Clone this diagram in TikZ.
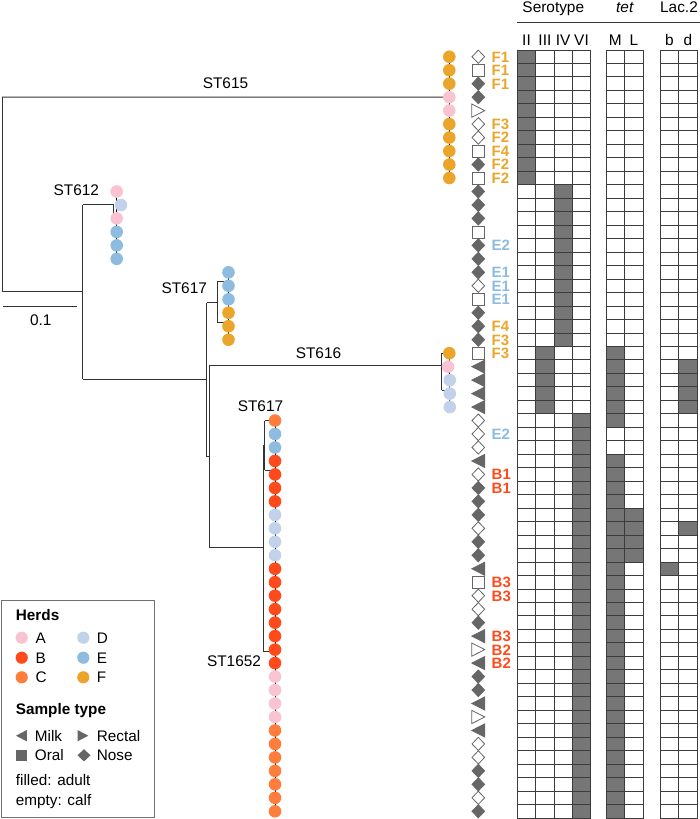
\documentclass[tikz,border=0pt]{standalone}
\usepackage{fontspec}
\setmainfont{Liberation Sans}
\usetikzlibrary{shapes.geometric,backgrounds}
\definecolor{cA}{HTML}{F9C3D1}
\definecolor{cB}{HTML}{FF4A1C}
\definecolor{cC}{HTML}{FF7E3E}
\definecolor{cD}{HTML}{C2D2EA}
\definecolor{cE}{HTML}{8EBCE1}
\definecolor{cF}{HTML}{EAA52A}
\definecolor{symgray}{HTML}{666666}
\definecolor{cellgray}{HTML}{767676}
\definecolor{gridline}{HTML}{3C3C3C}
\definecolor{treeline}{HTML}{333333}
\definecolor{legline}{HTML}{707070}
\newcommand\fillrows[4]{\fill[cellgray] (#1,{50+(#3-1)*13.474}) rectangle (#2,{50+#4*13.474});}
\begin{document}
\begin{tikzpicture}[x=1pt,y=-1pt,
  tree/.style={draw=treeline, line width=1pt},
  chain/.style={draw=black, line width=0.7pt},
  dot/.style={circle, inner sep=0pt, minimum size=12.6pt, draw=none},
  sym/.style={draw=symgray, line width=0.8pt, line join=miter},
  gridl/.style={draw=gridline, line width=0.9pt, line cap=rect},
  lab/.style={font=\fontsize{15}{18}\selectfont\bfseries, inner sep=0pt, anchor=base west},
  txt/.style={font=\fontsize{15.4}{18}\selectfont, inner sep=0pt, anchor=base},
  ltxt/.style={font=\fontsize{15.3}{18}\selectfont, inner sep=0pt, anchor=base west},
  lbold/.style={font=\fontsize{15.3}{18}\selectfont\bfseries, inner sep=0pt, anchor=base west},
]
\useasboundingbox (0,0) rectangle (700,819);

% ---------- grid fills ----------
\fillrows{517.3}{535.7}{1}{10}
\fillrows{554}{572.3}{11}{22}
\fillrows{535.7}{554}{23}{27}
\fillrows{572.3}{590.7}{28}{57}
\fillrows{606}{624.7}{23}{28}
\fillrows{606}{624.7}{31}{57}
\fillrows{624.7}{643.3}{35}{38}
\fillrows{660}{678.7}{39}{39}
\fillrows{678.7}{697.3}{24}{27}
\fillrows{678.7}{697.3}{36}{36}

% ---------- grid lines ----------
\foreach \r in {0,...,57} {
  \pgfmathsetmacro\yy{50+\r*13.474}
  \draw[gridl] (517.3,\yy) -- (590.7,\yy);
  \draw[gridl] (606,\yy) -- (643.3,\yy);
  \draw[gridl] (660,\yy) -- (697.3,\yy);
}
\foreach \x in {517.3,535.7,554,572.3,590.7,606,624.7,643.3,660,678.7,697.3}
  \draw[gridl] (\x,50) -- (\x,818.0);

% ---------- headers ----------
\coordinate (hl1) at (517.3,22.7);
\coordinate (hl2) at (700,22.7);
\draw[tree] (hl1) -- (hl2);
\node[txt] (hSero) at (553.3,12.5) {Serotype};
\node[txt] (hTet) at (625,12.5) {\textit{tet}};
\node[txt] (hLac) at (679,12.5) {Lac.2};
\node[txt] (cII) at (526.5,45) {II};
\node[txt] (cIII) at (544.9,45) {III};
\node[txt] (cIV) at (563.2,45) {IV};
\node[txt] (cVI) at (581.5,45) {VI};
\node[txt] (cM) at (615.3,45) {M};
\node[txt] (cL) at (634,45) {L};
\node[txt] (cb) at (669.3,45) {b};
\node[txt] (cd) at (688,45) {d};

% ---------- sample symbols (1 nose, 2 oral, 3 milk, 4 rectal) ----------
\foreach \k/\t/\f in {1/1/white,2/2/white,3/1/symgray,4/1/symgray,5/4/white,6/1/white,7/1/white,8/2/white,9/1/symgray,10/2/white,
  11/1/symgray,12/1/symgray,13/1/symgray,14/2/white,15/1/symgray,16/1/symgray,17/1/symgray,18/1/white,19/2/white,20/1/symgray,
  21/1/symgray,22/1/symgray,23/2/white,24/3/symgray,25/3/symgray,26/3/symgray,27/3/symgray,28/1/white,29/1/white,30/1/white,
  31/3/symgray,32/1/white,33/1/symgray,34/1/symgray,35/1/symgray,36/1/white,37/1/symgray,38/1/symgray,39/3/symgray,40/2/white,
  41/1/white,42/1/white,43/1/symgray,44/3/symgray,45/4/white,46/3/symgray,47/1/symgray,48/1/symgray,49/3/symgray,50/4/white,
  51/3/symgray,52/1/white,53/1/white,54/1/symgray,55/1/symgray,56/1/white,57/1/symgray} {
  \pgfmathsetmacro\yy{50+(\k-0.5)*13.474}
  \ifcase\t\or
    \path[sym, fill=\f] (478.3,\yy) ++(-6.3,0) -- ++(6.3,-6.6) -- ++(6.3,6.6) -- ++(-6.3,6.6) -- cycle;
  \or
    \path[sym, fill=\f] (478.3,\yy) ++(-6,-6) rectangle ++(12,12);
  \or
    \path[sym, fill=\f] (478.3,\yy) ++(6.5,-6.6) -- ++(-13,6.6) -- ++(13,6.6) -- cycle;
  \or
    \path[sym, fill=\f] (478.3,\yy) ++(-6.5,-6.6) -- ++(13,6.6) -- ++(-13,6.6) -- cycle;
  \fi
}

% ---------- farm labels ----------
\foreach \k/\l/\c in {1/F1/cF,2/F1/cF,3/F1/cF,6/F3/cF,7/F2/cF,8/F4/cF,9/F2/cF,10/F2/cF,15/E2/cE,17/E1/cE,18/E1/cE,19/E1/cE,
  21/F4/cF,22/F3/cF,23/F3/cF,29/E2/cE,32/B1/cB,33/B1/cB,40/B3/cB,41/B3/cB,44/B3/cB,45/B2/cB,46/B2/cB} {
  \pgfmathsetmacro\yy{50+(\k-0.5)*13.474+5.4}
  \node[lab, text=\c] (L\k) at (491.5,\yy) {\l};
}

% ---------- tree tips ----------
\foreach \k/\x/\c in {1/449.3/cF,2/449.3/cF,3/449.3/cF,4/449.3/cA,5/449.3/cA,6/449.3/cF,7/449.3/cF,8/449.3/cF,9/449.3/cF,10/449.3/cF,
  11/116.7/cA,12/121/cD,13/116.7/cA,14/116.7/cE,15/116.7/cE,16/116.7/cE,
  17/228.5/cE,18/228.5/cE,19/228.5/cE,20/228.5/cF,21/228.5/cF,22/228.5/cF,
  23/449.3/cF,24/448/cA,25/449.8/cD,26/449.8/cD,27/449.8/cD,
  28/275/cC,29/275/cE,30/275/cE,31/275/cB,32/275/cB,33/275/cB,34/275/cB,35/275/cD,36/275/cD,37/275/cD,38/275/cD,
  39/275/cB,40/275/cB,41/275/cB,42/275/cB,43/275/cB,44/275/cB,45/275/cB,46/275/cB,
  47/275/cA,48/275/cA,49/275/cA,50/275/cA,
  51/275/cC,52/275/cC,53/275/cC,54/275/cC,55/275/cC,56/275/cC,57/275/cC} {
  \pgfmathsetmacro\yy{50+(\k-0.5)*13.474}
  \node[dot, fill=\c] (t\k) at (\x,\yy) {};
}

% ---------- tree branches ----------
\coordinate (rt) at (2,97.2);
\coordinate (rb) at (2,291.7);
\coordinate (n1) at (82.7,291.7);
\coordinate (n1t) at (82.7,204.95);
\coordinate (n1b) at (82.7,379.3);
\coordinate (b612) at (113.3,204.95);
\coordinate (n2) at (206.7,379.3);
\coordinate (n2t) at (206.7,302.7);
\coordinate (n2b) at (206.7,456.7);
\coordinate (b617a) at (217.3,302.7);
\coordinate (b617at) at (217.3,281.7);
\coordinate (b617ab) at (217.3,322.7);
\coordinate (n3) at (209.3,456.7);
\coordinate (n3t) at (209.3,365.7);
\coordinate (n3b) at (209.3,547.7);
\coordinate (b616) at (441.7,365.7);
\coordinate (b616t) at (441.7,353.3);
\coordinate (b616b) at (441.7,390);
\coordinate (n4) at (263.3,547.7);
\coordinate (n4t) at (263.3,445.7);
\coordinate (n4b) at (263.3,651);
\coordinate (b617b) at (264.5,445.7);
\coordinate (b617bt) at (264.5,420.7);
\coordinate (b617bb) at (264.5,470);
\coordinate (sb1) at (3.3,306);
\coordinate (sb2) at (77,306);

\begin{scope}[on background layer]
  \draw[tree] (rt) -- (t4.center);
  \draw[tree] (rt) -- (rb) -- (n1);
  \draw[tree] (n1t) -- (n1b);
  \draw[tree] (n1t) -- (b612) |- (t13.center);
  \draw[tree] (n1b) -- (n2);
  \draw[tree] (n2t) -- (n2b);
  \draw[tree] (n2t) -- (b617a);
  \draw[tree] (b617at) -- (b617ab);
  \draw[tree] (b617at) -- (b617at -| t17.center);
  \draw[tree] (b617ab) -- (b617ab -| t17.center);
  \draw[tree] (n2b) -- (n3);
  \draw[tree] (n3t) -- (n3b);
  \draw[tree] (n3t) -- (b616);
  \draw[tree] (b616t) -- (b616b);
  \draw[tree] (b616t) -- (b616t -| t23.center);
  \draw[tree] (b616b) -- (b616b -| t25.center);
  \draw[tree] (n3b) -- (n4);
  \draw[tree] (n4t) -- (n4b);
  \draw[tree] (n4b) -- (n4b -| t28.center);
  \draw[tree] (n4t) -- (b617b);
  \draw[tree] (b617bt) -- (b617bb);
  \draw[tree] (b617bt) -- (b617bt -| t28.center);
  \draw[tree] (b617bb) -- (b617bb -| t28.center);
  \draw[chain] (t1.center) -- (t10.center);
  \draw[chain] (t11.center) -- (t16.center);
  \draw[chain] (t17.center) -- (t22.center);
  \draw[chain] (t23.center) -- (t27.center);
  \draw[chain] (t28.center) -- (t57.center);
\end{scope}
\draw[tree] (sb1) -- (sb2);

% ---------- tree labels ----------
\node[txt] (l615) at (225.5,88.3) {ST615};
\node[txt] (l612) at (76.3,195) {ST612};
\node[txt] (l617a) at (184.2,293.3) {ST617};
\node[txt] (l616) at (318.5,358) {ST616};
\node[txt] (l617b) at (260.5,411.7) {ST617};
\node[txt] (l1652) at (234,666.7) {ST1652};
\node[txt] (lscale) at (40.8,325) {0.1};

% ---------- legend ----------
\draw[draw=legline, line width=1pt] (1.7,600) rectangle (154.3,817.7);
\node[lbold] (gHerds) at (15.7,620.7) {Herds};
\node[dot, fill=cA, minimum size=12.2pt] (gA) at (21.7,637.7) {};
\node[dot, fill=cB, minimum size=12.2pt] (gB) at (21.7,657.7) {};
\node[dot, fill=cC, minimum size=12.2pt] (gC) at (21.7,677.3) {};
\node[dot, fill=cD, minimum size=12.2pt] (gD) at (83.3,637.7) {};
\node[dot, fill=cE, minimum size=12.2pt] (gE) at (83.3,657.7) {};
\node[dot, fill=cF, minimum size=12.2pt] (gF) at (83.3,677.3) {};
\node[ltxt] (gAt) at (35.5,643) {A};
\node[ltxt] (gBt) at (35.5,663) {B};
\node[ltxt] (gCt) at (35.5,682.6) {C};
\node[ltxt] (gDt) at (96.7,643) {D};
\node[ltxt] (gEt) at (96.7,663) {E};
\node[ltxt] (gFt) at (96.7,682.6) {F};
\node[lbold] (gSample) at (15.7,714) {Sample type};
\path[fill=symgray] (26.8,730) -- (16,735.7) -- (26.8,741.4) -- cycle;
\node[ltxt] (gMilk) at (34.7,741.2) {Milk};
\path[fill=symgray] (77.5,730) -- (88.3,735.7) -- (77.5,741.4) -- cycle;
\node[ltxt] (gRectal) at (96.7,741.2) {Rectal};
\path[fill=symgray] (16,750) rectangle (26.7,760.7);
\node[ltxt] (gOral) at (34.7,760.8) {Oral};
\path[fill=symgray] (77.5,755.3) -- (84,749.2) -- (90.5,755.3) -- (84,761.4) -- cycle;
\node[ltxt] (gNose) at (96.7,760.8) {Nose};
\node[ltxt] (gFilled) at (15.7,785) {filled: adult};
\node[ltxt] (gEmpty) at (15.7,805) {empty: calf};
\end{tikzpicture}
\end{document}
